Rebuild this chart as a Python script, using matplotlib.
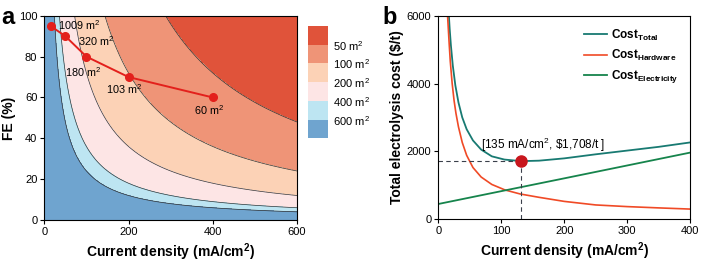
import numpy as np
import matplotlib.pyplot as plt
plt.rcParams['font.family'] = ['Liberation Sans', 'DejaVu Sans']
plt.rcParams['mathtext.fontset'] = 'custom'
plt.rcParams['mathtext.rm'] = 'Liberation Sans'
plt.rcParams['mathtext.bf'] = 'Liberation Sans:bold'

# panel a: electrolyser area needed at each (current density, FE) point
j_pts = np.array([15, 50, 100, 200, 400])
fe_pts = np.array([95, 90, 80, 70, 60])
area_pts = np.array([1009, 320, 180, 103, 60])
area_levels = [0, 50, 100, 200, 400, 600, 1e7]
area_colors = ['#e0533a', '#ef9477', '#fcd2b6', '#fde5e5', '#bde5f2', '#6fa4cf']
area_ticks = [50, 100, 200, 400, 600]

# panel b: cost curves ($/t) vs current density (mA/cm2)
j_hw = [13.5, 15, 17, 19, 22, 25, 28, 32, 38, 45, 55, 68, 85, 106, 130, 160, 200, 250, 300, 350, 400]
cost_hw = [6400, 5900, 5250, 4650, 4000, 3500, 3120, 2720, 2260, 1880, 1520, 1240, 1020, 857, 739,
           640, 520, 415, 366, 328, 293]
j_tot = [14, 16, 18, 20, 23, 27, 32, 38, 45, 55, 68, 85, 105, 132, 160, 200, 250, 300, 350, 400]
cost_tot = [7000, 6250, 5620, 5120, 4530, 3950, 3440, 3000, 2650, 2320, 2050, 1850, 1755, 1708,
            1722, 1790, 1910, 2020, 2130, 2260]
j_el = [0, 100, 200, 300, 400]
cost_el = [443, 822, 1200, 1580, 1960]
opt_j, opt_cost = 132, 1708

fig = plt.figure(figsize=(7.02, 2.63), dpi=100)

# ---- panel a
ax = fig.add_axes([0.0631, 0.1635, 0.3600, 0.7765])
k = np.mean(area_pts * j_pts * fe_pts / 100)
jj, ff = np.meshgrid(np.linspace(0.5, 600, 600), np.linspace(0.2, 100, 400))
area = k / (jj * ff / 100)
cs = ax.contourf(jj, ff, area, levels=area_levels, colors=area_colors)
ax.contour(jj, ff, area, levels=area_ticks, colors='#333333', linewidths=0.5)
ax.plot(j_pts, fe_pts, '-o', color='#e3201c', lw=1.4, ms=5.5)
lab_pos = [(33, 95.5), (80, 87.8), (49, 72.6), (146, 64), (355, 53.8)]
for (x, y), a in zip(lab_pos, area_pts):
    ax.text(x, y, '%d m$^2$' % a, fontsize=7.8, ha='left', va='center')
ax.set_xlim(0, 600)
ax.set_ylim(0, 100)
ax.set_xticks([0, 200, 400, 600])
ax.set_yticks([0, 20, 40, 60, 80, 100])
ax.set_xlabel('Current density (mA/cm$^\\mathbf{2}$)', fontsize=10, fontweight='bold', labelpad=3)
ax.set_ylabel('FE (%)', fontsize=10, fontweight='bold', labelpad=2)
ax.tick_params(labelsize=8, length=3, width=0.8, pad=2)
fig.text(0.002, 0.935, 'a', fontsize=17, fontweight='bold', va='center')

cax = fig.add_axes([0.439, 0.474, 0.0276, 0.427])
cb = fig.colorbar(cs, cax=cax)
cax.invert_yaxis()
cb.set_ticks(area_ticks)
cb.set_ticklabels(['%d m$^2$' % t for t in area_ticks])
cb.outline.set_visible(False)
cax.tick_params(length=0, labelsize=8, pad=4)

# ---- panel b
bx = fig.add_axes([0.6244, 0.1673, 0.3586, 0.7727])
bx.plot(j_tot, cost_tot, color='#187a72', lw=1.3, label='Cost$_{\\mathbf{Total}}$')
bx.plot(j_hw, cost_hw, color='#f04a26', lw=1.2, label='Cost$_{\\mathbf{Hardware}}$')
bx.plot(j_el, cost_el, color='#16844c', lw=1.3, label='Cost$_{\\mathbf{Electricity}}$')
bx.plot([0, opt_j], [opt_cost, opt_cost], '--', color='#3a3f4a', lw=0.8, dashes=(4, 3))
bx.plot([opt_j, opt_j], [0, opt_cost], '--', color='#3a3f4a', lw=0.8, dashes=(4, 3))
bx.plot(opt_j, opt_cost, 'o', color='#c8161d', ms=8, zorder=5)
bx.text(166, 2190, '[135 mA/cm$^2$, \\$1,708/t ]', fontsize=8.5, ha='center', va='center')
bx.set_xlim(0, 400)
bx.set_ylim(0, 6000)
bx.set_xticks([0, 100, 200, 300, 400])
bx.set_yticks([0, 2000, 4000, 6000])
bx.set_xlabel('Current density (mA/cm$^\\mathbf{2}$)', fontsize=10, fontweight='bold', labelpad=3)
bx.set_ylabel('Total electrolysis cost (\\$/t)', fontsize=10, fontweight='bold', labelpad=2)
bx.tick_params(labelsize=8, length=3, width=0.8, pad=2)
leg = bx.legend(loc='upper right', frameon=False, fontsize=8.5, handlelength=2.0,
                handletextpad=0.3, labelspacing=0.45, borderaxespad=0.6)
for t in leg.get_texts():
    t.set_fontweight('bold')
fig.text(0.545, 0.935, 'b', fontsize=17, fontweight='bold', va='center')

fig.savefig('out.png', dpi=100)
